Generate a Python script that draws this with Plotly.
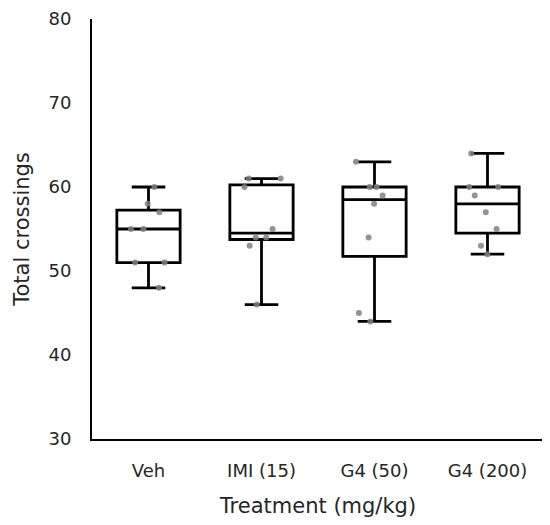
import numpy as np
import plotly.graph_objects as go

categories = ["Veh", "IMI (15)", "G4 (50)", "G4 (200)"]
veh = [60, 58, 57, 55, 55, 51, 51, 48]
imi15 = [61, 61, 60, 55, 54, 54, 53, 46]
g4_50 = [63, 60, 60, 59, 58, 54, 45, 44]
g4_200 = [64, 60, 60, 59, 57, 55, 53, 52]
groups = [veh, imi15, g4_50, g4_200]
y_ticks = [30, 40, 50, 60, 70, 80]


def stats(vals):
    a = np.array(vals, dtype=float)
    q1, med, q3 = np.percentile(a, [25, 50, 75])
    iqr = q3 - q1
    lo = a[a >= q1 - 1.5 * iqr].min()
    hi = a[a <= q3 + 1.5 * iqr].max()
    return q1, med, q3, lo, hi


S = [stats(g) for g in groups]

fig = go.Figure()
fig.add_trace(go.Box(
    x=categories,
    q1=[s[0] for s in S],
    median=[s[1] for s in S],
    q3=[s[2] for s in S],
    lowerfence=[s[3] for s in S],
    upperfence=[s[4] for s in S],
    boxpoints=False,
    width=0.56,
    whiskerwidth=0.53,
    line=dict(color="black", width=2.8),
    fillcolor="white",
    showlegend=False,
))

px_x = []
px_y = []
for c, g in zip(categories, groups):
    px_x += [c] * len(g)
    px_y += g

fig.add_trace(go.Box(
    x=px_x,
    y=px_y,
    boxpoints="all",
    jitter=0.7,
    pointpos=0,
    width=0.56,
    line=dict(color="rgba(0,0,0,0)", width=0),
    fillcolor="rgba(0,0,0,0)",
    marker=dict(color="rgba(128,128,128,0.85)", size=6),
    showlegend=False,
))

font = "DejaVu Sans"
fig.update_layout(
    width=542, height=517,
    margin=dict(l=84, r=6, t=11, b=86, autoexpand=False),
    plot_bgcolor="white", paper_bgcolor="white",
    boxmode="overlay",
    font=dict(family=font, color="#262626"),
    xaxis=dict(
        type="category",
        categoryarray=categories,
        range=[-0.5, 3.5],
        automargin=False,
        showline=True, linecolor="black", linewidth=2,
        showgrid=False, zeroline=False,
        ticks="outside", ticklen=14, tickcolor="rgba(0,0,0,0)",
        tickfont=dict(size=18, family=font),
        ticklabeloverflow="allow",
        title=dict(text="Treatment (mg/kg)", font=dict(size=21, family=font), standoff=19),
    ),
    yaxis=dict(
        range=[30, 80],
        tickvals=y_ticks,
        automargin=False,
        showline=True, linecolor="black", linewidth=2,
        showgrid=False, zeroline=False,
        ticks="outside", ticklen=15, tickcolor="rgba(0,0,0,0)",
        tickfont=dict(size=18, family=font),
        ticklabeloverflow="allow",
        title=dict(text="Total crossings", font=dict(size=21, family=font), standoff=13),
    ),
)

fig.write_html("out.html")
